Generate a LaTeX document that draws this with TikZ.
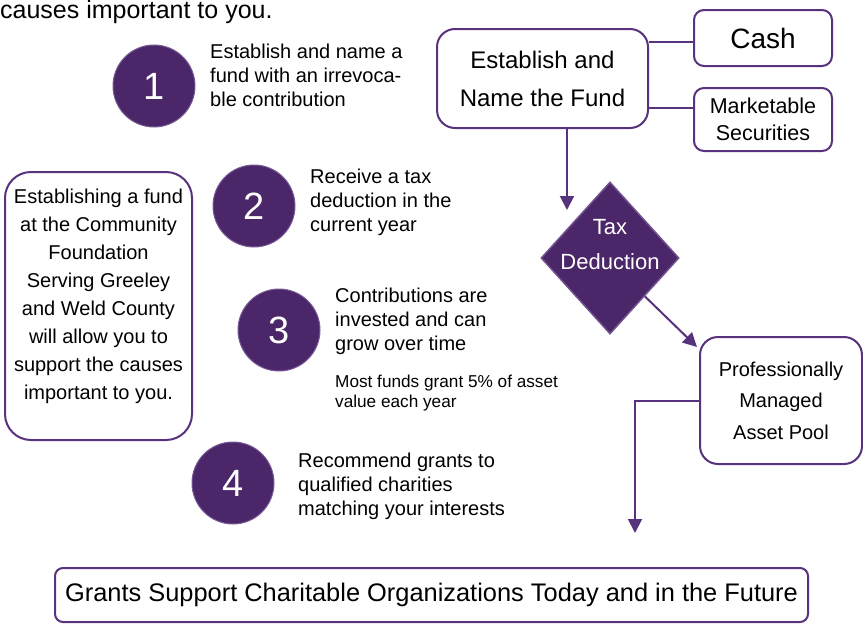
\documentclass[tikz,border=0pt]{standalone}
\usepackage{fontspec}
\setmainfont{Liberation Sans}
\usetikzlibrary{shapes.geometric,arrows.meta}
\definecolor{pline}{RGB}{88,50,125}
\definecolor{pfill}{RGB}{75,38,104}
\begin{document}
\begin{tikzpicture}[x=1pt,y=-1pt,
 box/.style={draw=pline,line width=2pt,rounded corners=#1,fill=white,inner sep=0pt,align=center},
 box/.default=12pt,
 num/.style={circle,fill=pfill,draw=pline!80!white,line width=1pt,minimum size=82pt,inner sep=0pt,text=white,font=\fontsize{38}{40}\selectfont},
 steptext/.style={anchor=north west,inner sep=0pt,align=left,font=\fontsize{20}{24}\selectfont},
 conn/.style={draw=pline,line width=2pt},
 arr/.style={conn,-{Triangle[length=14pt,width=14pt]}},
 ]
\useasboundingbox (0,0) rectangle (863,637);

% top text
\node[anchor=base west,inner sep=0pt,font=\fontsize{25}{30}\selectfont] (toptext) at (0,19) {causes important to you.};

% numbered steps
\node[num] (n1) at (154,86) {1};
\node[steptext] (t1) at (210,43.5) {Establish and name a\\fund with an irrevoca-\\ble contribution};

\node[num] (n2) at (254,206) {2};
\node[steptext] (t2) at (310,168.5) {Receive a tax\\deduction in the\\current year};

\node[num] (n3) at (279,330) {3};
\node[steptext] (t3) at (335,287.5) {Contributions are\\invested and can\\grow over time};
\node[steptext,font=\fontsize{17.2}{20}\selectfont] (t3b) at (335,374.5) {Most funds grant 5\% of asset\\value each year};

\node[num] (n4) at (233,483) {4};
\node[steptext] (t4) at (298,452.5) {Recommend grants to\\qualified charities\\matching your interests};

% left intro box
\node[box=26pt,minimum width=187pt,minimum height=268pt] (intro) at (98.5,306) {};
\node[inner sep=0pt,align=center,font=\fontsize{20}{28}\selectfont] (introtext) at (98.5,296)
 {Establishing a fund\\at the Community\\Foundation\\Serving Greeley\\and Weld County\\will allow you to\\support the causes\\important to you.};

% right flow
\node[box=18pt,minimum width=211pt,minimum height=99pt,font=\fontsize{24}{38}\selectfont] (fund) at (542.5,78.5) {Establish and\\Name the Fund};
\node[box=10pt,minimum width=138pt,minimum height=56pt,font=\fontsize{28}{30}\selectfont] (cash) at (763,38) {Cash};
\node[box=10pt,minimum width=138pt,minimum height=63pt,font=\fontsize{21.5}{27}\selectfont] (mkt) at (763,119.5) {Marketable\\Securities};

\draw[conn] ([yshift=-4pt]cash.west -| fund.east) -- ([yshift=-4pt]cash.west);
\draw[conn] ([yshift=11.5pt]mkt.west -| fund.east) -- ([yshift=11.5pt]mkt.west);

\node[diamond,fill=pfill,draw=pline!85!white,line width=1.5pt,minimum width=138pt,minimum height=152pt,inner sep=0pt] (tax) at (610,258) {};
\node[inner sep=0pt,align=center,text=white,font=\fontsize{22}{35}\selectfont] (taxtext) at (610,245) {Tax\\Deduction};

\coordinate (taxin) at (567,210);
\draw[arr] (fund.south -| taxin) -- (taxin);

\node[box=18pt,minimum width=162pt,minimum height=127pt,font=\fontsize{20}{31.5}\selectfont] (prof) at (781,400.5) {Professionally\\Managed\\Asset Pool};

\coordinate (profin) at (697,347);
\draw[arr] (tax.south east) -- (profin);

\coordinate (grantin) at (635,533);
\draw[arr] (prof.west) -| (grantin);

\node[box=8pt,minimum width=753pt,minimum height=54pt,font=\fontsize{25.4}{30}\selectfont] (grants) at (431.5,595) {Grants Support Charitable Organizations Today and in the Future};
\end{tikzpicture}
\end{document}
